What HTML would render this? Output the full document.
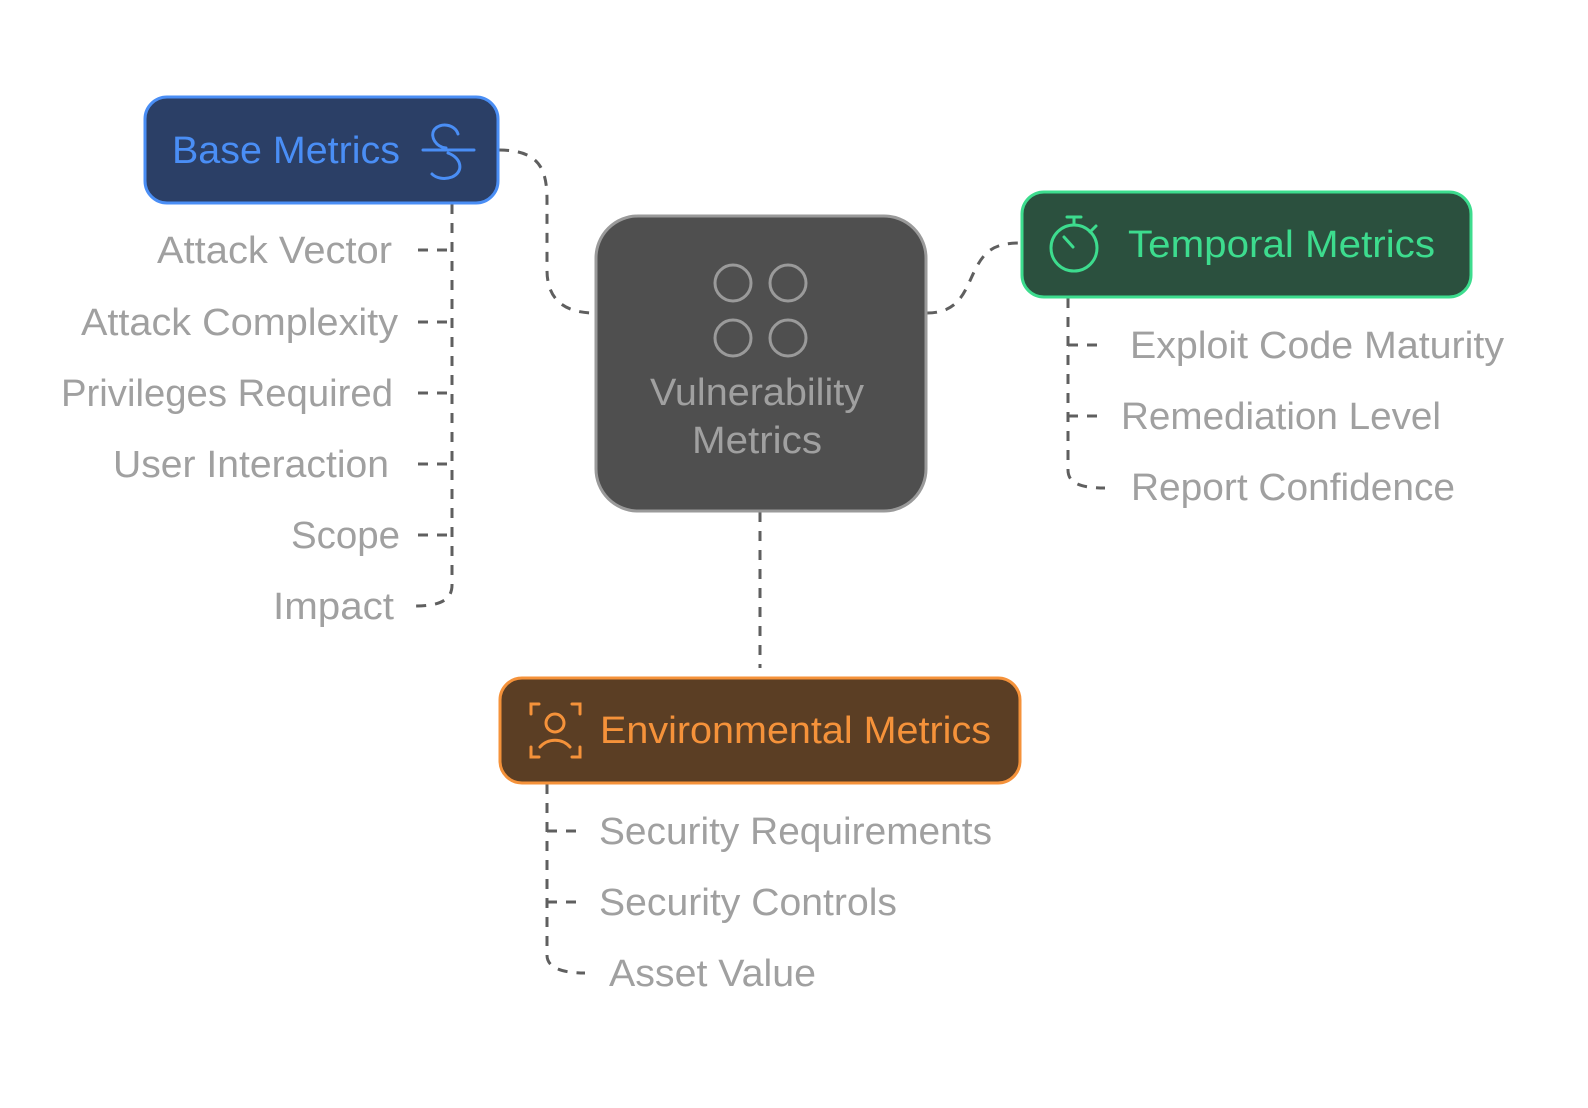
<!DOCTYPE html>
<html><head><meta charset="utf-8"><style>
body{margin:0;background:#fff}
svg{display:block}
text{font-family:"Liberation Sans",sans-serif}
</style></head><body>
<svg width="1588" height="1108" viewBox="0 0 1588 1108" xmlns="http://www.w3.org/2000/svg">
<g fill="none" stroke="#5f5f5f" stroke-width="3" stroke-dasharray="10 9">
<path d="M499 150 C540 150 547 170 547 200 L547 270 C547 300 565 313 595 313"/>
<path d="M927 313 C960 313 965 290 975 270 C985 250 995 243 1021 243"/>
<path d="M760 512 L760 668"/>
<path d="M452 204 L452 585 C452 600 440 606 415 606"/>
<path d="M418 250 H452 M418 322 H452 M418 393 H452 M418 464 H452 M418 535 H452"/>
<path d="M1068 298 L1068 470 C1068 483 1080 488 1105 488"/>
<path d="M1068 345 H1105 M1068 416 H1105"/>
<path d="M547 784 L547 955 C547 967 560 973 585 973"/>
<path d="M547 831 H585 M547 902 H585"/>
</g>
<rect x="145" y="97" width="353" height="106" rx="22" fill="#2b3f66" stroke="#4a8ef5" stroke-width="3"/>
<text x="172" y="163" font-size="38" fill="#4a8ef5" textLength="228" lengthAdjust="spacingAndGlyphs">Base Metrics</text>
<g fill="none" stroke="#4a8ef5" stroke-width="3" stroke-linecap="round">
<path d="M423 150 H474"/><path d="M458 134 C455 124 440 122 434 130 C430 137 436 147 446 148"/><path d="M448 153 C462 158 464 172 452 177 C444 180 436 178 432 174"/>
</g>
<rect x="1022" y="192" width="449" height="105" rx="22" fill="#2b503e" stroke="#3ddc8e" stroke-width="3"/>
<text x="1128" y="257" font-size="38" fill="#3ddc8e" textLength="307" lengthAdjust="spacingAndGlyphs">Temporal Metrics</text>
<g fill="none" stroke="#3ddc8e" stroke-width="3" stroke-linecap="round">
<circle cx="1074" cy="248" r="23"/><path d="M1074 225 V217 M1067 217 H1081 M1064 237 L1073 247 M1090 232 L1096 226"/>
</g>
<rect x="596" y="216" width="330" height="295" rx="42" fill="#4f4f4f" stroke="#9a9a9a" stroke-width="3"/>
<g fill="none" stroke="#9a9a9a" stroke-width="3">
<circle cx="733" cy="283" r="18"/><circle cx="788" cy="283" r="18"/><circle cx="733" cy="338" r="18"/><circle cx="788" cy="338" r="18"/>
</g>
<text x="650" y="405" font-size="38" fill="#a0a0a0" textLength="214" lengthAdjust="spacingAndGlyphs">Vulnerability</text>
<text x="692" y="453" font-size="38" fill="#a0a0a0" textLength="130" lengthAdjust="spacingAndGlyphs">Metrics</text>
<rect x="500" y="678" width="520" height="105" rx="22" fill="#5b3e24" stroke="#f5923a" stroke-width="3"/>
<text x="600" y="743" font-size="38" fill="#f5923a" textLength="391" lengthAdjust="spacingAndGlyphs">Environmental Metrics</text>
<g fill="none" stroke="#f5923a" stroke-width="3" stroke-linecap="round">
<path d="M531 714 V704 H539 M572 704 H580 V714 M531 747 V757 H539 M572 757 H580 V747"/>
<circle cx="555" cy="723" r="9"/><path d="M540 747 C548 738 562 738 570 747"/>
</g>
<g font-size="38" fill="#a0a0a0">
<text x="157" y="263" textLength="235" lengthAdjust="spacingAndGlyphs">Attack Vector</text>
<text x="81" y="335" textLength="317" lengthAdjust="spacingAndGlyphs">Attack Complexity</text>
<text x="61" y="406" textLength="332" lengthAdjust="spacingAndGlyphs">Privileges Required</text>
<text x="113" y="477" textLength="276" lengthAdjust="spacingAndGlyphs">User Interaction</text>
<text x="291" y="548" textLength="109" lengthAdjust="spacingAndGlyphs">Scope</text>
<text x="273" y="619" textLength="121" lengthAdjust="spacingAndGlyphs">Impact</text>
<text x="1130" y="358" textLength="374" lengthAdjust="spacingAndGlyphs">Exploit Code Maturity</text>
<text x="1121" y="429" textLength="320" lengthAdjust="spacingAndGlyphs">Remediation Level</text>
<text x="1131" y="500" textLength="324" lengthAdjust="spacingAndGlyphs">Report Confidence</text>
<text x="599" y="844" textLength="393" lengthAdjust="spacingAndGlyphs">Security Requirements</text>
<text x="599" y="915" textLength="298" lengthAdjust="spacingAndGlyphs">Security Controls</text>
<text x="609" y="986" textLength="207" lengthAdjust="spacingAndGlyphs">Asset Value</text>
</g>
</svg>
</body></html>
